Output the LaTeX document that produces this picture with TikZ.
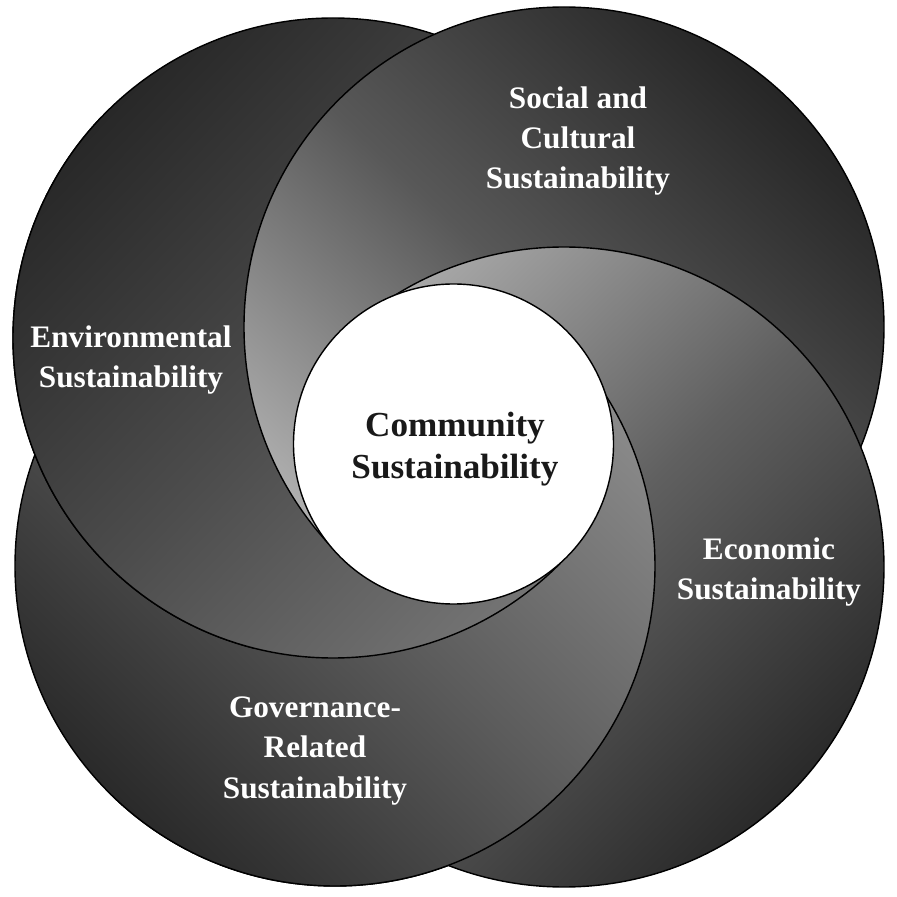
\documentclass[tikz,border=0pt]{standalone}
\usepackage{fontspec}
\setmainfont{Liberation Serif}

\definecolor{envin}{HTML}{747474}
\definecolor{envmid}{HTML}{4C4C4C}
\definecolor{envout}{HTML}{282828}
\definecolor{socin}{HTML}{B0B0B0}
\definecolor{socmid}{HTML}{585858}
\definecolor{socout}{HTML}{262626}
\definecolor{ecoin}{HTML}{AAAAAA}
\definecolor{ecomid}{HTML}{606060}
\definecolor{ecoout}{HTML}{2A2A2A}
\definecolor{govin}{HTML}{8C8C8C}
\definecolor{govmid}{HTML}{5C5C5C}
\definecolor{govout}{HTML}{2A2A2A}

\tikzset{
  ring/.style={draw=black, line width=0.4pt},
  envshade/.style={top color=envin, bottom color=envout, middle color=envmid, shading angle=-133.7},
  socshade/.style={top color=socin, bottom color=socout, middle color=socmid, shading angle=136.7},
  ecoshade/.style={top color=ecoin, bottom color=ecoout, middle color=ecomid, shading angle=44.3},
  govshade/.style={top color=govin, bottom color=govout, middle color=govmid, shading angle=-44.3},
}

\begin{document}
\begin{tikzpicture}

\def\labfont{\bfseries\fontsize{8.9}{11.4}\selectfont}
\def\corefont{\bfseries\fontsize{10}{11.8}\selectfont}
\def\rad{3.2cm}

\useasboundingbox (0,0) rectangle (8.97,8.97);

\coordinate (O) at (4.49,4.48);
\coordinate (env) at (3.33,5.59);
\coordinate (soc) at (5.64,5.70);
\coordinate (eco) at (5.64,3.30);
\coordinate (gov) at (3.35,3.31);

% all four, Econ on top
\draw[ring,govshade] (gov) circle (\rad);
\draw[ring,envshade] (env) circle (\rad);
\draw[ring,socshade] (soc) circle (\rad);
\draw[ring,ecoshade] (eco) circle (\rad);

% Gov over Econ on the right and bottom
\begin{scope}
\clip (O) -- +(46.7:10) -- +(-13:10) -- +(-73:10) -- +(225.7:10) -- cycle;
\draw[ring,govshade] (gov) circle (\rad);
\end{scope}

% Env over Gov on the left and bottom
\begin{scope}
\clip (O) -- +(136.3:10) -- +(196:10) -- +(255:10) -- +(314.3:10) -- cycle;
\draw[ring,envshade] (env) circle (\rad);
\end{scope}

% Social over Env on the left
\begin{scope}
\clip (O) -- +(133.3:10) -- +(180:10) -- +(225.7:10) -- cycle;
\draw[ring,socshade] (soc) circle (\rad);
\end{scope}

\node[draw=black, line width=0.4pt, circle, fill=white, minimum size=3.2cm] (core) at (4.535,4.53) {};
\node[font=\corefont, text=black!90, align=center] (corelab) at (4.55,4.48) {Community\\Sustainability};

\node[font=\labfont, text=white, align=center] (envlab) at (1.31,5.37) {Environmental\\Sustainability};
\node[font=\labfont, text=white, align=center] (soclab) at (5.78,7.56) {Social and\\Cultural\\Sustainability};
\node[font=\labfont, text=white, align=center] (ecolab) at (7.69,3.25) {Economic\\Sustainability};
\node[font=\labfont, text=white, align=center] (govlab) at (3.15,1.46) {Governance-\\Related\\Sustainability};

\end{tikzpicture}
\end{document}
